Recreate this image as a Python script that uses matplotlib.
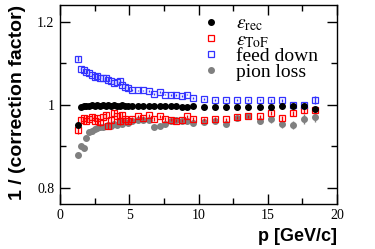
import numpy as np
import matplotlib
matplotlib.use('Agg')
import matplotlib.pyplot as plt
from matplotlib.lines import Line2D

# momentum bins [GeV/c]
p = [1.3, 1.5, 1.7, 1.9, 2.1, 2.3, 2.5, 2.7, 2.9, 3.1, 3.3, 3.5, 3.7, 3.9,
     4.1, 4.3, 4.5, 4.7, 4.9,
     5.2, 5.6, 6.0, 6.4, 6.8, 7.2, 7.6, 8.0, 8.4, 8.8, 9.2, 9.6,
     10.4, 11.2, 12.0, 12.8, 13.6, 14.4, 15.2, 16.0, 16.8, 17.6, 18.4]

eps_rec = [0.952, 0.995, 0.997, 0.998, 0.998, 0.999, 0.998, 0.999, 0.998, 0.999,
           0.998, 0.999, 0.998, 0.999, 0.998, 0.998, 0.999, 0.998, 0.998,
           0.998, 0.998, 0.998, 0.997, 0.998, 0.997, 0.997, 0.997, 0.997, 0.996,
           0.996, 0.997,
           0.996, 0.996, 0.996, 0.996, 0.995, 0.994, 0.994, 0.997, 0.997, 0.997, 0.990]
eps_rec_err = [0.006] + [0.001] * 30 + [0.002] * 8 + [0.003, 0.003, 0.006]

eps_tof = [0.940, 0.963, 0.968, 0.962, 0.966, 0.970, 0.962, 0.968, 0.958, 0.970,
           0.975, 0.950, 0.964, 0.980, 0.972, 0.960, 0.976, 0.967, 0.960,
           0.966, 0.972, 0.968, 0.975, 0.966, 0.972, 0.966, 0.964, 0.962, 0.963,
           0.972, 0.966,
           0.964, 0.966, 0.965, 0.970, 0.972, 0.972, 0.981, 0.968, 0.980, 0.988, 0.988]
eps_tof_err = [0.010, 0.008, 0.007, 0.007, 0.008, 0.007, 0.008, 0.007, 0.008, 0.008,
               0.008, 0.009, 0.008, 0.008, 0.008, 0.008, 0.008, 0.007, 0.007,
               0.004, 0.004, 0.004, 0.004, 0.004, 0.004, 0.004, 0.004, 0.004, 0.004,
               0.004, 0.004,
               0.004, 0.004, 0.004, 0.004, 0.004, 0.004, 0.005, 0.006, 0.006, 0.007, 0.008]

feed_down = [1.111, 1.087, 1.083, 1.080, 1.076, 1.073, 1.068, 1.070, 1.066, 1.064,
             1.066, 1.060, 1.057, 1.053, 1.055, 1.057, 1.048, 1.043, 1.040,
             1.036, 1.035, 1.035, 1.034, 1.027, 1.031, 1.025, 1.024, 1.024, 1.022,
             1.025, 1.017,
             1.014, 1.012, 1.012, 1.012, 1.012, 1.012, 1.011, 1.011, 0.999, 0.999, 1.012]
feed_down_err = [0.006] + [0.002] * 36 + [0.003, 0.003, 0.003, 0.004, 0.010]

pion_loss = [0.880, 0.901, 0.896, 0.920, 0.935, 0.937, 0.941, 0.943, 0.946, 0.947,
             0.950, 0.951, 0.950, 0.955, 0.952, 0.958, 0.955, 0.958, 0.956,
             0.962, 0.964, 0.964, 0.963, 0.946, 0.950, 0.955, 0.960, 0.964, 0.962,
             0.960, 0.956,
             0.958, 0.962, 0.955, 0.968, 0.972, 0.960, 0.965, 0.953, 0.952, 0.966, 0.970]
pion_loss_err = [0.005] * 19 + [0.003] * 12 + [0.004, 0.004, 0.005, 0.005, 0.006,
                                               0.007, 0.008, 0.009, 0.010, 0.011, 0.012]

plt.rcParams['mathtext.fontset'] = 'stix'
serif = 'Liberation Serif'
sans = 'Liberation Sans'

blue = '#3333ff'
grey = '#808080'

fig = plt.figure(figsize=(3.75, 2.49), dpi=100)
ax = fig.add_axes([0.16, 0.181, 0.739, 0.799])

ax.errorbar(p, eps_rec, yerr=eps_rec_err, fmt='o', ms=4, color='black',
            mec='black', elinewidth=1, capsize=0, zorder=4)
ax.errorbar(p, eps_tof, yerr=eps_tof_err, fmt='s', ms=4, color='red', mfc='none',
            mec='red', mew=0.9, elinewidth=1, capsize=0, zorder=3)
ax.errorbar(p, feed_down, yerr=feed_down_err, fmt='s', ms=4, color=blue, mfc='none',
            mec=blue, mew=0.9, elinewidth=1, capsize=0, zorder=3)
ax.errorbar(p, pion_loss, yerr=pion_loss_err, fmt='o', ms=4, color=grey,
            mec=grey, elinewidth=1, capsize=0, zorder=2)

ax.set_xlim(0, 20)
ax.set_ylim(0.761, 1.241)
ax.set_xticks([0, 5, 10, 15, 20])
ax.set_xticks([2.5, 7.5, 12.5, 17.5], minor=True)
ax.set_yticks([0.8, 1.0, 1.2])
ax.set_yticklabels(['0.8', '1', '1.2'])
ax.set_yticks([0.9, 1.1], minor=True)
ax.tick_params(which='both', direction='in', top=True, right=True, width=1)
ax.tick_params(which='major', length=7, labelsize=10, pad=4)
ax.tick_params(which='minor', length=4)
for lab in ax.get_xticklabels() + ax.get_yticklabels():
    lab.set_fontfamily(serif)
for s in ax.spines.values():
    s.set_linewidth(1)

ax.set_xlabel('p [GeV/c]', fontfamily=sans, fontweight='bold', fontsize=13, loc='right', labelpad=4)
ax.set_ylabel('1 / (correction factor)', fontfamily=sans, fontweight='bold', fontsize=14,
              loc='top', labelpad=8)

handles = [
    Line2D([], [], ls='none', marker='o', ms=4, color='black'),
    Line2D([], [], ls='none', marker='s', ms=4, mfc='none', mec='red', mew=0.9),
    Line2D([], [], ls='none', marker='s', ms=4, mfc='none', mec=blue, mew=0.9),
    Line2D([], [], ls='none', marker='o', ms=4, color=grey),
]
labels = [r'$\varepsilon_{\mathrm{rec}}$', r'$\varepsilon_{\mathrm{ToF}}$', 'feed down', 'pion loss']
leg = ax.legend(handles, labels, loc='upper left', bbox_to_anchor=(0.51, 0.95), frameon=False,
                handlelength=1.0, handletextpad=0.8, labelspacing=-0.1, borderpad=0,
                borderaxespad=0, prop={'family': serif, 'size': 14})

fig.savefig('out.png', dpi=100)
